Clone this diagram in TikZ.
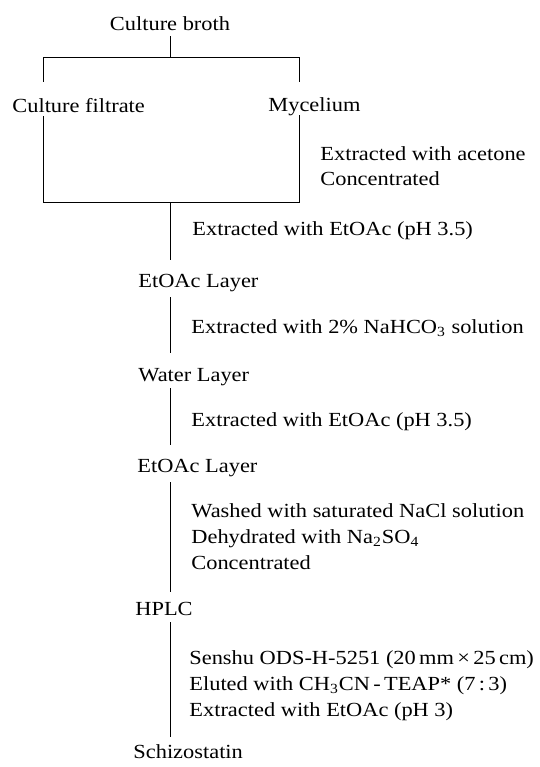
\documentclass[tikz,border=0pt]{standalone}
\usepackage{fontspec}
\setmainfont[FakeStretch=1.12]{Liberation Serif}
\begin{document}
\begin{tikzpicture}[x=0.5pt,y=-0.5pt,
  stage/.style={inner sep=0pt,text height=7pt,text depth=2pt,anchor=base west,
    font=\fontsize{10}{12.5}\selectfont},
  cond/.style={inner sep=0pt,anchor=base west,align=left,
    font=\fontsize{10}{12.8}\selectfont},
  link/.style={line width=0.5pt,black}]
  \useasboundingbox (0,0) rectangle (540,767);
  \node[stage,anchor=base] (broth) at (170,30) {Culture broth};
  \node[stage] (filtrate) at (12,112) {Culture filtrate};
  \node[stage] (mycelium) at (268,111) {Mycelium};
  \node[cond,font=\fontsize{10}{12.5}\selectfont] (acetone) at (320,185) {Extracted with acetone\\Concentrated};
  \node[cond] (ext1) at (192,235) {Extracted with EtOAc (pH 3.5)};
  \node[stage] (layer1) at (138,287) {EtOAc Layer};
  \node[cond] (ext2) at (191,333) {Extracted with 2\% NaHCO\textsubscript{3} solution};
  \node[stage] (water) at (138,381) {Water Layer};
  \node[cond] (ext3) at (191,426) {Extracted with EtOAc (pH 3.5)};
  \node[stage] (layer2) at (137,472) {EtOAc Layer};
  \node[cond] (wash) at (191,569) {Washed with saturated NaCl solution\\
    Dehydrated with Na\textsubscript{2}SO\textsubscript{4}\\Concentrated};
  \node[stage] (hplc) at (135,615) {HPLC};
  \node[cond] (column) at (189,716) {Senshu ODS-H-5251 (20\,mm\,×\,25\,cm)\\
    Eluted with CH\textsubscript{3}CN\,-\,TEAP* (7\,:\,3)\\Extracted with EtOAc (pH 3)};
  \node[stage] (schizo) at (133,758) {Schizostatin};
  \coordinate (split) at (170,57);
  \coordinate (tl) at (43,57);
  \coordinate (tr) at (299,57);
  \coordinate (bl) at (43,202);
  \coordinate (br) at (299,202);
  \coordinate (merge) at (170,202);
  \draw[link,shorten <=1pt] (broth.south) -- (split);
  \draw[link,shorten <=8pt,shorten >=7.5pt] (filtrate.north -| tl) -- (tl) -- (tr) -- (mycelium.north -| tr);
  \draw[link] (filtrate.south -| tl) -- (bl) -- (br) -- (mycelium.south -| tr);
  \draw[link,shorten >=6.5pt] (merge) -- (layer1.north -| merge);
  \draw[link,shorten <=3pt,shorten >=7pt] (layer1.south -| merge) -- (water.north -| merge);
  \draw[link,shorten <=1.5pt,shorten >=6.5pt] (water.south -| merge) -- (layer2.north -| merge);
  \draw[link,shorten <=3pt,shorten >=4.5pt] (layer2.south -| merge) -- (hplc.north -| merge);
  \draw[link,shorten <=1.5pt,shorten >=3.5pt] (hplc.south -| merge) -- (schizo.north -| merge);
\end{tikzpicture}
\end{document}
